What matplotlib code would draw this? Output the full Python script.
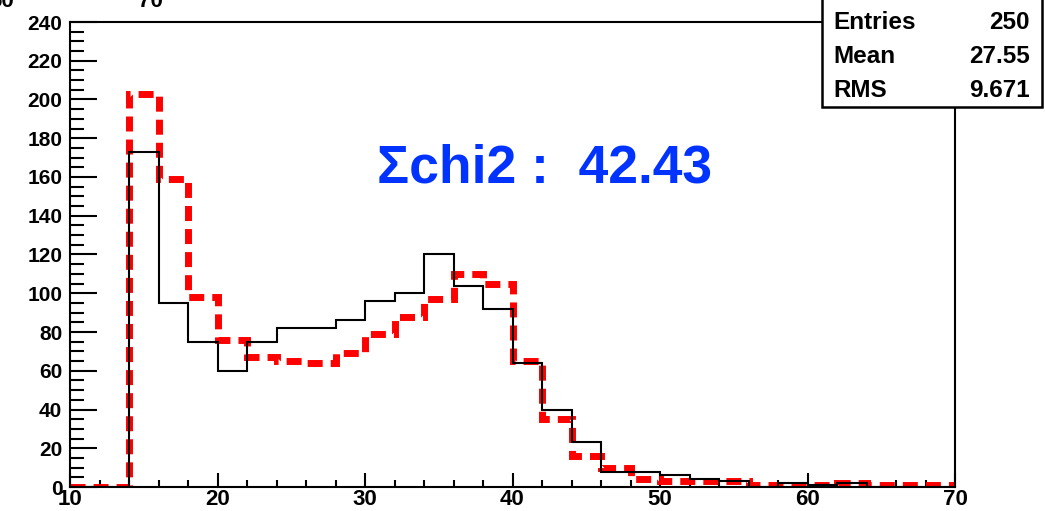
import numpy as np
import matplotlib
matplotlib.use("Agg")
import matplotlib.pyplot as plt
from matplotlib.ticker import MultipleLocator
from matplotlib.patches import Rectangle

plt.rcParams['font.family'] = ['Liberation Sans', 'DejaVu Sans']
plt.rcParams['font.weight'] = 'bold'
plt.rcParams['lines.scale_dashes'] = False

# ---- data ----
bin_edges = np.arange(10, 72, 2)
black_counts = [0, 0, 173, 95, 75, 60, 75, 82, 82, 86, 96, 100, 120, 104, 92,
                64, 40, 23, 8, 8, 6, 4, 3, 0, 2, 1, 2, 0, 0, 0]
red_counts = [0, 0, 203, 159, 98, 76, 67, 65, 64, 69, 79, 88, 97, 110, 105,
              65, 35, 16, 10, 4, 3, 3, 3, 1, 1, 1, 2, 1, 1, 1]
stat_names = ["Entries", "Mean", "RMS"]
stat_values = ["250", "27.55", "9.671"]
chi_label = "\u03a3chi2 :  42.43"
x_ticks = [10, 20, 30, 40, 50, 60, 70]
y_ticks = list(range(0, 241, 20))

W, H = 1045, 511
fig = plt.figure(figsize=(W / 100, H / 100), dpi=100)
ax = fig.add_axes([70 / W, 24 / H, 885 / W, 465 / H])

ax.stairs(red_counts, bin_edges, color='#ff0000', lw=5.0,
          linestyle=(0, (10.8, 5.8)), zorder=2)
ax.stairs(black_counts, bin_edges, color='black', lw=1.5, zorder=3)

ax.set_xlim(10, 70)
ax.set_ylim(0, 240)
ax.set_xticks(x_ticks)
ax.set_yticks(y_ticks)
ax.xaxis.set_minor_locator(MultipleLocator(2))
ax.yaxis.set_minor_locator(MultipleLocator(5))
ax.tick_params(axis='both', which='both', direction='in', width=1.5,
               top=False, right=False)
ax.tick_params(axis='y', which='major', length=19.4, pad=5.5, labelsize=15)
ax.tick_params(axis='y', which='minor', length=10)
ax.tick_params(axis='x', which='major', length=10, pad=1.5, labelsize=16)
ax.tick_params(axis='x', which='minor', length=5)
for lab in ax.get_xticklabels() + ax.get_yticklabels():
    lab.set_fontweight('bold')
for sp in ax.spines.values():
    sp.set_linewidth(1.5)

# chi2 annotation
fig.text(377 / W, 1 - 182.5 / H, chi_label, color='#0033ff', fontsize=38.5,
         fontweight='bold', ha='left', va='baseline')

# stats box
box = Rectangle((822 / W, 1 - 107 / H), 220 / W, 0.3, transform=fig.transFigure,
                facecolor='white', edgecolor='black', lw=1.8, zorder=5)
fig.add_artist(box)
rows_y = [29, 63, 97]
for name, val, yy in zip(stat_names, stat_values, rows_y):
    fig.text(833 / W, 1 - yy / H, name, fontsize=17.5, fontweight='bold',
             ha='left', va='baseline', zorder=6)
    fig.text(1030 / W, 1 - yy / H, val, fontsize=17.5, fontweight='bold',
             ha='right', va='baseline', zorder=6)

# clipped labels from the panel above
fig.text(2 / W, 1 - 7 / H, "60", fontsize=16, fontweight='bold',
         ha='center', va='baseline')
fig.text(150 / W, 1 - 7 / H, "70", fontsize=16, fontweight='bold',
         ha='center', va='baseline')

fig.savefig("out.png", dpi=100)
